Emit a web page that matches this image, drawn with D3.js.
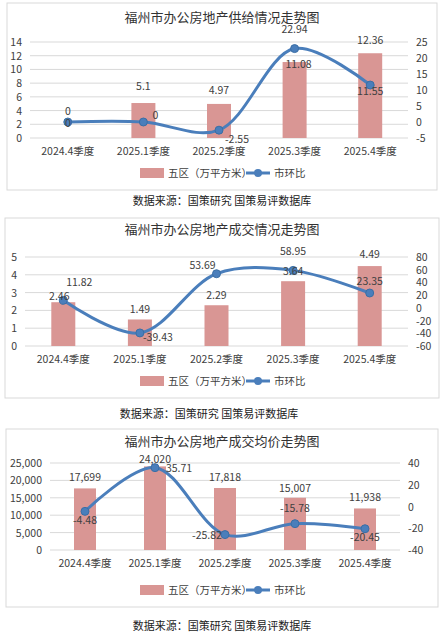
<!DOCTYPE html>
<html><head><meta charset="utf-8">
<script src="https://cdn.jsdelivr.net/npm/d3@7"></script>
<style>body{margin:0;background:#fff}svg{display:block}text{font-family:"Noto Sans CJK SC",sans-serif;fill:#404040}</style>
</head><body><svg id="c" width="444" height="634"></svg>
<script>
const categories = ["2024.4季度","2025.1季度","2025.2季度","2025.3季度","2025.4季度"];
const supplyArea = [0, 5.1, 4.97, 11.08, 12.36];
const supplyQoQ = [0, 0, -2.55, 22.94, 11.55];
const dealArea = [2.46, 1.49, 2.29, 3.64, 4.49];
const dealQoQ = [11.82, -39.43, 53.69, 58.95, 23.35];
const price = [17699, 24020, 17818, 15007, 11938];
const priceQoQ = [-4.48, 35.71, -25.82, -15.78, -20.45];
const titles = ["福州市办公房地产供给情况走势图","福州市办公房地产成交情况走势图","福州市办公房地产成交均价走势图"];
const legendBar = "五区（万平方米）", legendLine = "市环比", source = "数据来源：国策研究 国策易评数据库";

const svg = d3.select("#c");
const BAR="#D99694", LINE="#4A7EBB";

function panel(o){
  const g = svg.append("g");
  g.append("rect").attr("x",o.bx0).attr("y",o.by0).attr("width",o.bx1-o.bx0).attr("height",o.by1-o.by0).attr("fill","#fff").attr("stroke","#d9d9d9");
  g.append("text").attr("x",222).attr("y",o.ty).attr("text-anchor","middle").attr("font-size",13).style("fill","#333").text(o.title);
  const x = d3.scaleBand().domain(categories).range([o.x0,o.x1]);
  const yl = d3.scaleLinear().domain(o.ld).range([o.y0,o.y1]);
  const yr = d3.scaleLinear().domain(o.rd).range([o.y0,o.y1]);
  yl.ticks(o.lt).forEach(t=>{ if(t===o.ld[0]) return;
    g.append("line").attr("x1",o.x0).attr("x2",o.x1).attr("y1",yl(t)).attr("y2",yl(t)).attr("stroke","#d9d9d9");});
  g.append("line").attr("x1",o.x0).attr("x2",o.x1).attr("y1",o.y0).attr("y2",o.y0).attr("stroke","#d9d9d9");
  yl.ticks(o.lt).forEach(t=>g.append("text").attr("x",o.x0-8).attr("y",yl(t)+4).attr("text-anchor","end").attr("font-size",10.5).text(o.lf(t)));
  yr.ticks(o.rt).forEach(t=>g.append("text").attr("x",o.x1+8).attr("y",yr(t)+4).attr("font-size",10.5).text(t));
  categories.forEach(c=>g.append("text").attr("x",x(c)+x.bandwidth()/2).attr("y",o.y0+17).attr("text-anchor","middle").attr("font-size",10.5).text(c));
  const bw=o.bw;
  g.selectAll(null).data(o.bars).join("rect").attr("x",(d,i)=>x(categories[i])+x.bandwidth()/2-bw/2)
    .attr("y",d=>yl(d)).attr("width",bw).attr("height",d=>o.y0-yl(d)).attr("fill",BAR);
  const pts = o.line.map((d,i)=>[x(categories[i])+x.bandwidth()/2, yr(d)]);
  g.append("path").attr("d",d3.line().curve(d3.curveCatmullRom.alpha(0.5))(pts)).attr("fill","none").attr("stroke",LINE).attr("stroke-width",3);
  pts.forEach(p=>g.append("circle").attr("cx",p[0]).attr("cy",p[1]).attr("r",4).attr("fill",LINE).attr("stroke","#3a6ea5"));
  o.bars.forEach((d,i)=>{const cx=x(categories[i])+x.bandwidth()/2; const off=o.blo[i];
    g.append("text").attr("x",cx+off[0]).attr("y",yl(d)+off[1]).attr("text-anchor","middle").attr("font-size",10.5).text(o.bf(d));});
  o.line.forEach((d,i)=>{const p=pts[i]; const off=o.llo[i];
    g.append("text").attr("x",p[0]+off[0]).attr("y",p[1]+off[1]).attr("text-anchor","middle").attr("font-size",10.5).text(d);});
  const ly=o.ly;
  g.append("rect").attr("x",140).attr("y",ly-5).attr("width",24).attr("height",10).attr("fill",BAR);
  g.append("text").attr("x",168).attr("y",ly+4).attr("font-size",10.5).text(legendBar);
  g.append("line").attr("x1",246).attr("x2",270).attr("y1",ly).attr("y2",ly).attr("stroke",LINE).attr("stroke-width",3);
  g.append("circle").attr("cx",258).attr("cy",ly).attr("r",4).attr("fill",LINE);
  g.append("text").attr("x",274).attr("y",ly+4).attr("font-size",10.5).text(legendLine);
  g.append("text").attr("x",o.sx).attr("y",o.sy).attr("text-anchor","middle").attr("font-size",11).style("fill","#222").text(source);
}
panel({bx0:7,bx1:437,by0:3,by1:190,ty:22,title:titles[0],x0:30,x1:408,y0:138,y1:42,ld:[0,14],lt:7,rd:[-5,25],rt:6,
  lf:t=>t,bars:supplyArea,line:supplyQoQ,bw:24,bf:d=>d,
  blo:[[0,-11],[0,-13],[0,-10],[4,6],[0,-9]],llo:[[0,-7],[12,-3],[18,13],[0,-16],[0,10]],ly:173,sx:222,sy:205});
panel({bx0:5,bx1:439,by0:218,by1:398,ty:234,title:titles[1],x0:25,x1:408,y0:346,y1:257,ld:[0,5],lt:5,rd:[-60,80],rt:7,
  lf:t=>t,bars:dealArea,line:dealQoQ,bw:24,bf:d=>d.toFixed(2),
  blo:[[-4,-2],[0,-6],[0,-6],[0,-6],[0,-8]],llo:[[16,-14],[18,8],[-14,-5],[0,-15],[0,-8]],ly:381,sx:209,sy:418});
panel({bx0:6,bx1:438,by0:429,by1:607,ty:446,title:titles[2],x0:50,x1:400,y0:550,y1:463,ld:[0,25000],lt:5,rd:[-40,40],rt:4,
  lf:d3.format(","),bars:price,line:priceQoQ,bw:22,bf:d3.format(","),
  blo:[[0,-7],[0,-3],[0,-7],[0,-6],[0,-7]],llo:[[0,13],[24,4],[-18,4],[0,-12],[0,12]],ly:590,sx:222,sy:630});
</script></body></html>
